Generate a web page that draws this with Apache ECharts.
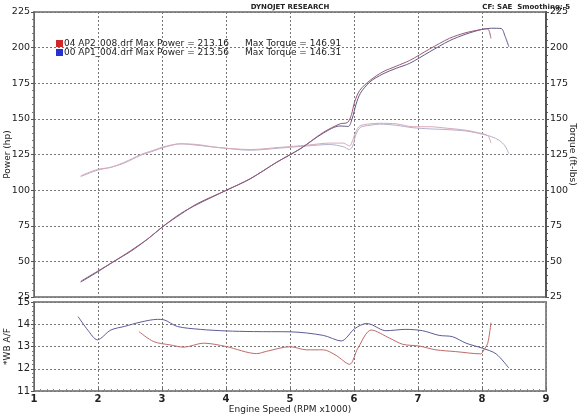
<!DOCTYPE html>
<html><head><meta charset="utf-8">
<script src="https://cdn.jsdelivr.net/npm/echarts@6/dist/echarts.min.js"></script>
<style>html,body{margin:0;padding:0;background:#fff}#c{width:580px;height:415px}</style>
</head><body><div id="c"></div>
<script>
// ---- Data ----
const runNames = ['04 AP2_008.drf', '00 AP1_004.drf'];
const maxPower = ['213.16', '213.56'];
const maxTorque = ['146.91', '146.31'];
const xTicks = [1, 2, 3, 4, 5, 6, 7, 8, 9];

// Run 04 AP2 (red)
const redPowerRpm = [1.73,1.99,2.25,2.51,2.77,3.03,3.29,3.55,4.01,4.38,4.79,5.16,5.52,5.78,5.90,5.96,6.01,6.09,6.25,6.45,6.66,6.87,7.18,7.49,7.75,8.00,8.08,8.11,8.14];
const redPower    = [36,43,50,57.5,65.5,75,83,90.5,100,108,119.5,129,140.5,146.5,147.5,153,162,170,177,183,187,191,199,206.5,210.5,212.8,213.2,212,206.5];
const redTorqueRpm = [1.73,1.99,2.20,2.41,2.67,2.87,3.03,3.29,3.55,3.86,4.38,4.84,5.26,5.62,5.83,5.93,5.98,6.03,6.09,6.25,6.40,6.66,6.92,7.18,7.44,7.75,8.01,8.08,8.11,8.14];
const redTorque    = [110,114.5,116,119.5,125,128,130.5,132.5,132,130,128.5,130,131.5,133,133,131,135,141,145,146.5,146.9,146.5,144.5,144.5,143.5,142,139.6,138.5,137,133];
const redAfRpm = [2.64,2.87,3.13,3.34,3.65,4.00,4.48,4.63,5.00,5.26,5.52,5.72,5.93,6.06,6.27,6.56,6.76,7.02,7.28,7.59,7.98,8.03,8.09,8.14];
const redAf    = [13.67,13.22,13.07,12.97,13.15,13.0,12.68,12.78,12.99,12.85,12.85,12.6,12.2,12.92,13.74,13.37,13.1,13.02,12.85,12.77,12.67,12.85,13.15,14.07];

// Run 00 AP1 (blue)
const bluePowerRpm = [1.73,1.99,2.25,2.51,2.77,3.03,3.29,3.55,4.01,4.38,4.79,5.16,5.52,5.78,5.91,5.97,6.03,6.10,6.25,6.45,6.66,6.87,7.18,7.49,7.75,8.00,8.15,8.30,8.36,8.42];
const bluePower    = [35.5,42.5,50,57,65.5,75,83.5,90,100,108,119.5,129,140,145,144.7,150,160,168,176,181.5,185.5,189,197,204.8,209.5,212.8,213.6,213.4,208,200.6];
const blueTorqueRpm = [1.73,1.99,2.20,2.41,2.67,2.87,3.03,3.29,3.55,3.86,4.38,4.84,5.26,5.62,5.83,5.93,5.98,6.03,6.10,6.25,6.40,6.66,6.92,7.18,7.44,7.75,8.01,8.15,8.27,8.36,8.42];
const blueTorque    = [109.5,114,116,119,124.5,127.5,130,132.5,131.5,130,128,129.5,131,132,130.5,128.5,131,139,144,145.5,146.3,145.5,143.8,143,142.5,141.5,139.2,137.5,134.9,131,125.5];
const blueAfRpm = [1.69,1.84,1.99,2.20,2.41,2.67,2.93,3.03,3.24,3.60,4.00,4.43,5.00,5.52,5.80,6.01,6.19,6.26,6.50,6.81,7.07,7.33,7.54,7.75,8.01,8.22,8.42];
const blueAf    = [14.34,13.74,13.3,13.74,13.9,14.1,14.22,14.2,13.9,13.77,13.7,13.67,13.66,13.5,13.25,13.8,14.03,14.0,13.71,13.77,13.71,13.5,13.44,13.15,12.92,12.67,12.03];

const pair = (xs, ys) => xs.map((x, i) => [x, ys[i]]);

const FONT = 'DejaVu Sans';
const txt = '#222';
const frame = '#8c8c8c';
const gridLine = { show: true, lineStyle: { type: [2, 2], color: '#777', width: 1 } };

const chart = echarts.init(document.getElementById('c'), null, { renderer: 'canvas' });
chart.setOption({
  animation: false,
  backgroundColor: '#fff',
  textStyle: { fontFamily: FONT },
  title: [
    { text: 'DYNOJET RESEARCH', left: 'center', top: -1,
      textStyle: { fontSize: 7, fontWeight: 'bold', color: txt, fontFamily: FONT } },
    { text: 'CF: SAE  Smoothing: 5', right: 5, top: -1,
      textStyle: { fontSize: 7, fontWeight: 'bold', color: txt, fontFamily: FONT } }
  ],
  legend: {
    data: [
      { name: runNames[0], itemStyle: { color: '#d02828' } },
      { name: runNames[1], itemStyle: { color: '#2830d0' } }
    ],
    orient: 'vertical', left: 51, top: 34, itemGap: 0,
    icon: 'rect', itemWidth: 7, itemHeight: 7,
    selectedMode: false,
    formatter: name => {
      const i = runNames.indexOf(name);
      return '{a|' + name + ' Max Power = ' + maxPower[i] + '}{b|Max Torque = ' + maxTorque[i] + '}';
    },
    textStyle: {
      padding: [0, 0, 0, -4],
      rich: {
        a: { fontSize: 9, color: txt, fontFamily: FONT, width: 181, lineHeight: 9 },
        b: { fontSize: 9, color: txt, fontFamily: FONT, lineHeight: 9 }
      }
    }
  },
  grid: [
    { left: 34, right: 34, top: 12, height: 285, show: true, borderColor: frame, borderWidth: 2,
      containLabel: false, outerBoundsMode: 'none' },
    { left: 34, right: 34, top: 302, height: 89, show: true, borderColor: frame, borderWidth: 2,
      containLabel: false, outerBoundsMode: 'none' }
  ],
  xAxis: [
    { type: 'value', gridIndex: 0, min: 1, max: 9, interval: 1,
      axisLabel: { show: false }, axisTick: { show: false },
      axisLine: { show: false }, splitLine: gridLine },
    { type: 'value', gridIndex: 1, min: 1, max: 9, interval: 1,
      name: 'Engine Speed (RPM x1000)', nameLocation: 'middle', nameGap: 13,
      nameTextStyle: { fontSize: 9, color: txt, fontFamily: FONT },
      axisLabel: { fontSize: 10, color: txt, fontWeight: 'bold', margin: 3, fontFamily: FONT },
      axisTick: { show: true, inside: true, length: 3, lineStyle: { color: '#666' } },
      minorTick: { show: true, splitNumber: 10, length: 2, lineStyle: { color: '#888' } },
      axisLine: { show: false }, splitLine: gridLine }
  ],
  yAxis: [
    { type: 'value', gridIndex: 0, min: 25, max: 225, interval: 25, position: 'left',
      name: 'Power (hp)', nameLocation: 'middle', nameGap: 22, nameRotate: 90, nameMoveOverlap: false,
      nameTextStyle: { fontSize: 9, color: txt, fontFamily: FONT },
      axisLabel: { fontSize: 9.5, color: txt, margin: 4, fontFamily: FONT },
      axisLine: { show: true, lineStyle: { color: '#666', width: 1 } },
      axisTick: { show: true, length: 3, lineStyle: { color: '#555' } },
      minorTick: { show: true, splitNumber: 5, length: 2, lineStyle: { color: '#777' } },
      splitLine: gridLine },
    { type: 'value', gridIndex: 0, min: 25, max: 225, interval: 25, position: 'right',
      name: 'Torque (ft-lbs)', nameLocation: 'middle', nameGap: 22, nameRotate: -90, nameMoveOverlap: false,
      nameTextStyle: { fontSize: 9, color: txt, fontFamily: FONT },
      axisLabel: { fontSize: 9.5, color: txt, margin: 4, fontFamily: FONT },
      axisLine: { show: true, lineStyle: { color: '#555', width: 2 } },
      axisTick: { show: true, length: 3, lineStyle: { color: '#555' } },
      minorTick: { show: true, splitNumber: 5, length: 2, lineStyle: { color: '#555' } },
      splitLine: { show: false } },
    { type: 'value', gridIndex: 1, min: 11, max: 15, interval: 1, position: 'left',
      name: '*WB A/F', nameLocation: 'middle', nameGap: 22, nameRotate: 90, nameMoveOverlap: false,
      nameTextStyle: { fontSize: 9, color: txt, fontFamily: FONT },
      axisLabel: { fontSize: 10, color: txt, margin: 4, fontFamily: FONT },
      axisLine: { show: true, lineStyle: { color: '#666', width: 1 } },
      axisTick: { show: true, length: 3, lineStyle: { color: '#555' } },
      minorTick: { show: true, splitNumber: 5, length: 2, lineStyle: { color: '#777' } },
      splitLine: gridLine }
  ],
  series: [
    { name: runNames[1], type: 'line', xAxisIndex: 0, yAxisIndex: 1, showSymbol: false, smooth: 0.3,
      lineStyle: { color: '#b4b0cc', width: 1 }, itemStyle: { color: '#2830d0' },
      data: pair(blueTorqueRpm, blueTorque) },
    { name: 'redTorque', type: 'line', xAxisIndex: 0, yAxisIndex: 1, showSymbol: false, smooth: 0.3,
      lineStyle: { color: '#d6aab8', width: 1 }, itemStyle: { color: '#d02828' },
      data: pair(redTorqueRpm, redTorque) },
    { name: 'bluePower', type: 'line', xAxisIndex: 0, yAxisIndex: 0, showSymbol: false, smooth: 0.3,
      lineStyle: { color: '#5e5a86', width: 1 }, itemStyle: { color: '#2830d0' },
      data: pair(bluePowerRpm, bluePower) },
    { name: runNames[0], type: 'line', xAxisIndex: 0, yAxisIndex: 0, showSymbol: false, smooth: 0.3,
      lineStyle: { color: '#9a5a78', width: 1 }, itemStyle: { color: '#d02828' },
      data: pair(redPowerRpm, redPower) },
    { name: 'blueAf', type: 'line', xAxisIndex: 1, yAxisIndex: 2, showSymbol: false, smooth: 0.3,
      lineStyle: { color: '#5c5c98', width: 1 },
      data: pair(blueAfRpm, blueAf) },
    { name: 'redAf', type: 'line', xAxisIndex: 1, yAxisIndex: 2, showSymbol: false, smooth: 0.3,
      lineStyle: { color: '#c06a6a', width: 1 },
      data: pair(redAfRpm, redAf) }
  ]
});
</script></body></html>
